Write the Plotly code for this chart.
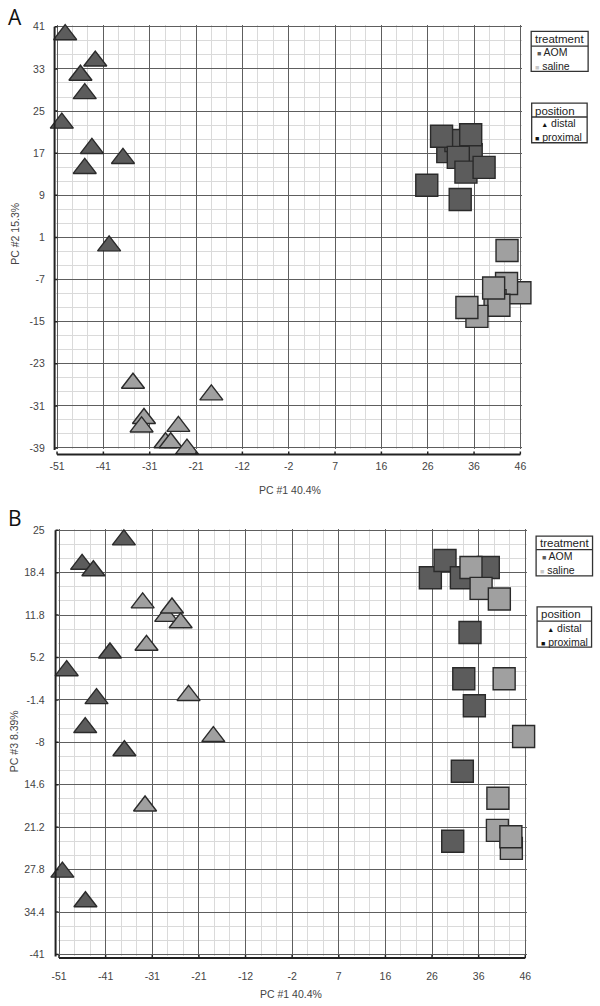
import numpy as np
import plotly.graph_objects as go

# ---------------- data ----------------
# Panel A : PC1 vs PC2
A_aom_distal_x = [-49.3, -43.0, -46.1, -45.2, -50.0, -43.7, -37.2, -45.2, -40.1]
A_aom_distal_y = [39.5, 34.5, 31.8, 28.3, 22.7, 17.9, 16.0, 14.1, -0.6]
A_sal_distal_x = [-35.1, -18.7, -32.8, -33.3, -25.6, -28.3, -27.2, -23.8]
A_sal_distal_y = [-26.7, -28.9, -33.4, -35.0, -34.9, -38.0, -38.0, -39.2]
A_aom_prox_x = [30.8, 32.5, 35.7, 29.5, 35.6, 33.0, 34.6, 38.4, 26.4, 33.4]
A_aom_prox_y = [17.3, 19.4, 16.7, 20.2, 20.5, 16.2, 13.4, 14.3, 10.9, 8.2]
A_sal_prox_x = [43.2, 45.9, 43.1, 40.7, 41.5, 40.4, 36.9, 34.8]
A_sal_prox_y = [-1.5, -9.5, -7.75, -11.0, -11.9, -8.6, -14.0, -12.3]

# Panel B : PC1 vs PC3
B_aom_distal_x = [-37.5, -46.2, -43.85, -40.4, -49.4, -43.2, -45.55, -37.4, -50.3, -45.5]
B_aom_distal_y = [23.5, 19.7, 18.7, 5.9, 3.15, -1.2, -5.7, -9.3, -28.2, -32.8]
B_sal_distal_x = [-28.7, -33.6, -27.5, -25.7, -32.8, -24.05, -18.9, -33.1, -35.3]
B_sal_distal_y = [11.6, 13.7, 12.9, 10.6, 7.1, -0.7, -7.1, -17.9, -41.8]
B_aom_prox_x = [26.25, 29.3, 32.7, 38.3, 34.5, 33.2, 35.4, 32.9, 30.9]
B_aom_prox_y = [17.6, 20.3, 17.6, 19.2, 9.1, 1.9, -2.3, -12.5, -23.4]
B_sal_prox_x = [34.7, 36.8, 40.6, 41.6, 45.65, 40.3, 43.1, 40.2, 43.0]
B_sal_prox_y = [19.2, 15.95, 14.3, 1.9, -7.1, -16.7, -24.5, -21.7, -22.7]

# axis ticks
x_ticktext = ["-51", "-41", "-31", "-21", "-12", "-2", "7", "16", "26", "36", "46"]
A_y_ticktext = ["41", "33", "25", "17", "9", "1", "-7", "-15", "-23", "-31", "-39"]
B_y_ticktext = ["25", "18.4", "11.8", "5.2", "-1.4", "-8", "14.6", "21.2", "27.8", "34.4", "-41"]

X_MIN, X_MAX = -51, 46
A_Y_MIN, A_Y_MAX = -39, 41
B_Y_MIN, B_Y_MAX = -41, 25

# ---------------- style ----------------
W, H = 600, 1006
DARK = "#5c5c5c"
LIGHT = "#a0a0a0"
EDGE = "#2a2a2a"
MAJOR = "#5e5e5e"
MINOR = "#dadada"
AXC = "#222"
FONT = "Liberation Sans, Arial, sans-serif"
TRI = 20
SQ = 22


def fx(px):
    return px / W


def fy(py):
    return 1 - py / H


fig = go.Figure()


def add_group(x, y, color, symbol, size, xa, ya):
    fig.add_trace(go.Scatter(
        x=x, y=y, mode="markers", xaxis=xa, yaxis=ya, showlegend=False,
        cliponaxis=False, hoverinfo="x+y",
        marker=dict(symbol=symbol, size=size, color=color,
                    line=dict(color=EDGE, width=1.4)),
    ))


add_group(A_aom_distal_x, A_aom_distal_y, DARK, "triangle-up", TRI, "x", "y")
add_group(A_sal_distal_x, A_sal_distal_y, LIGHT, "triangle-up", TRI, "x", "y")
add_group(A_aom_prox_x, A_aom_prox_y, DARK, "square", SQ, "x", "y")
add_group(A_sal_prox_x, A_sal_prox_y, LIGHT, "square", SQ, "x", "y")

add_group(B_aom_distal_x, B_aom_distal_y, DARK, "triangle-up", TRI, "x2", "y2")
add_group(B_sal_distal_x, B_sal_distal_y, LIGHT, "triangle-up", TRI, "x2", "y2")
add_group(B_aom_prox_x, B_aom_prox_y, DARK, "square", SQ, "x2", "y2")
add_group(B_sal_prox_x, B_sal_prox_y, LIGHT, "square", SQ, "x2", "y2")

PAD = 0.25  # data-units of padding so edge gridlines are kept
shapes = []
annotations = []

X_TICKVALS = np.linspace(X_MIN, X_MAX, 11)


def xaxis_cfg(px_left, px_right, anchor, standoff):
    scale = (px_right - px_left) / (X_MAX - X_MIN)
    dom = [fx(px_left - PAD * scale), fx(px_right + PAD * scale)]
    step = (X_MAX - X_MIN) / 10
    return dict(
        domain=dom, range=[X_MIN - PAD, X_MAX + PAD], anchor=anchor,
        showline=False, tickmode="array", tickvals=X_TICKVALS, ticktext=x_ticktext,
        ticks="", ticklabelstandoff=standoff,
        tickfont=dict(family=FONT, size=10.5, color="#444"),
        showgrid=True, gridcolor=MAJOR, gridwidth=1.2, zeroline=False,
        minor=dict(tickmode="linear", tick0=X_MIN, dtick=step / 3,
                   showgrid=True, gridcolor=MINOR, gridwidth=1.4, ticks=""),
        fixedrange=True,
    )


def yaxis_cfg(py_top, py_bottom, ymin, ymax, ticktext, anchor, gap):
    scale = (py_bottom - py_top) / (ymax - ymin)
    dom = [fy(py_bottom + PAD * scale), fy(py_top - PAD * scale)]
    step = (ymax - ymin) / 10
    return dict(
        domain=dom, range=[ymin - PAD, ymax + PAD], anchor=anchor, side="left",
        showline=False, tickmode="array", tickvals=np.linspace(ymax, ymin, 11),
        ticktext=ticktext,
        # invisible outside ticks only used to space the labels from the plot
        ticks="outside", ticklen=gap, tickcolor="rgba(0,0,0,0)",
        tickfont=dict(family=FONT, size=10.5, color="#444"),
        showgrid=True, gridcolor=MAJOR, gridwidth=1.2, zeroline=False,
        minor=dict(tickmode="linear", tick0=ymin, dtick=step / 3,
                   showgrid=True, gridcolor=MINOR, gridwidth=1.4, ticks=""),
        fixedrange=True,
    )


def axis_lines(xref, yref, px_left, px_right, py_top, py_bottom, ax_px, ax_py, yticks):
    # offset L-shaped axis lines with small inward ticks
    shapes.append(dict(type="line", xref="paper", yref="paper",
                       x0=fx(ax_px), x1=fx(ax_px), y0=fy(py_top), y1=fy(py_bottom + 2),
                       line=dict(color=AXC, width=2)))
    shapes.append(dict(type="line", xref="paper", yref="paper",
                       x0=fx(px_left), x1=fx(px_right), y0=fy(ax_py), y1=fy(ax_py),
                       line=dict(color=AXC, width=2)))
    for t in X_TICKVALS:
        shapes.append(dict(type="line", xref=xref, yref="paper",
                           x0=t, x1=t, y0=fy(ax_py), y1=fy(ax_py - 3),
                           line=dict(color=AXC, width=1.5)))
    for t in yticks:
        shapes.append(dict(type="line", xref="paper", yref=yref,
                           x0=fx(ax_px), x1=fx(ax_px + 3), y0=t, y1=t,
                           line=dict(color=AXC, width=1.5)))


def text(px, py, s, size=11, color="#333", angle=0, xanchor="center", family=FONT):
    annotations.append(dict(
        x=fx(px), y=fy(py), xref="paper", yref="paper", text=s, showarrow=False,
        xanchor=xanchor, yanchor="middle", textangle=angle,
        font=dict(family=family, size=size, color=color),
    ))


def legend_box(x0, x1, top, sep, bottom, title, entries):
    shapes.append(dict(type="rect", xref="paper", yref="paper",
                       x0=fx(x0), x1=fx(x1), y0=fy(bottom), y1=fy(top),
                       line=dict(color="#333", width=1.3), fillcolor="white"))
    shapes.append(dict(type="line", xref="paper", yref="paper",
                       x0=fx(x0), x1=fx(x1), y0=fy(sep), y1=fy(sep),
                       line=dict(color="#333", width=1.3)))
    text(x0 + 1.5, (top + sep) / 2 + 0.5, title, size=11.5, color="#222",
         xanchor="left")
    lines = []
    for glyph, gcolor, gsize, label in entries:
        lines.append("<span style='font-size:%dpx;color:%s'>%s</span> %s"
                     % (gsize, gcolor, glyph, label))
    text(x0 + 1.5, (sep + bottom) / 2 + 0.5, "<br>".join(lines), size=10.5,
         color="#222", xanchor="left")


# Panel geometry (pixels)
A_L, A_R, A_T, A_B = 52, 524, 22, 447
B_L, B_R, B_T, B_B = 54, 529, 530, 958

layout_x = xaxis_cfg(A_L, A_R, "y", 9)
layout_y = yaxis_cfg(A_T, A_B, A_Y_MIN, A_Y_MAX, A_y_ticktext, "x", 8)
layout_x2 = xaxis_cfg(B_L, B_R, "y2", 12)
layout_y2 = yaxis_cfg(B_T, B_B, B_Y_MIN, B_Y_MAX, B_y_ticktext, "x2", 10)

axis_lines("x", "y", A_L, A_R, A_T, A_B, 49.5, 453.5, np.linspace(A_Y_MAX, A_Y_MIN, 11))
axis_lines("x2", "y2", B_L, B_R, B_T, B_B, 50.5, 961.5, np.linspace(B_Y_MAX, B_Y_MIN, 11))

text(9, 12, "A", size=21, color="#111", family="Open Sans, Liberation Sans, sans-serif")
text(9, 518, "B", size=21, color="#111", family="Open Sans, Liberation Sans, sans-serif")

text(289, 489, "PC #1 40.4%", size=10.5, color="#444")
text(9, 231, "PC #2 15.3%", size=10.5, color="#444", angle=-90)
text(290, 998, "PC #1 40.4%", size=10.5, color="#444")
text(9, 743, "PC #3 8.39%", size=10.5, color="#444", angle=-90)

treat_entries = [("■", DARK, 7, "AOM"), ("■", "#c8c8c8", 7, "saline")]
pos_entries = [("▲", "#111", 7, "distal"), ("■", "#111", 7, "proximal")]

legend_box(535, 593, 26.7, 41.5, 67, "treatment", treat_entries)
legend_box(535.5, 592, 99, 113, 139, "position", pos_entries)
legend_box(540, 597.5, 536, 549.5, 576, "treatment", treat_entries)
legend_box(541, 596.5, 607.3, 621.7, 648, "position", pos_entries)

fig.update_layout(
    width=W, height=H, margin=dict(l=0, r=0, t=0, b=0),
    paper_bgcolor="white", plot_bgcolor="white",
    xaxis=layout_x, yaxis=layout_y, xaxis2=layout_x2, yaxis2=layout_y2,
    annotations=annotations, shapes=shapes, showlegend=False,
    font=dict(family=FONT),
)

fig.write_html("out.html", config={"displayModeBar": False},
               post_script="document.body.style.margin='0';document.body.style.overflow='hidden';")
